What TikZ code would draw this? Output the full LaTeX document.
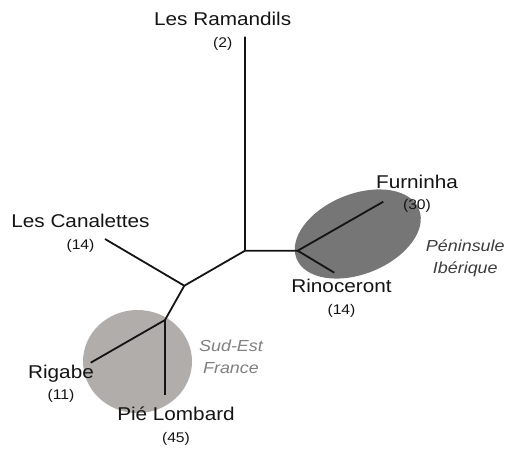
\documentclass[tikz,border=0pt]{standalone}
\usepackage{fontspec}
\setmainfont{Liberation Sans}[FakeStretch=1.12]
\usepackage{tikz}
\usetikzlibrary{positioning}
\definecolor{treeink}{HTML}{141414}
\definecolor{iberiagray}{HTML}{767676}
\definecolor{francegray}{HTML}{B1ADAA}
\definecolor{iberiatext}{HTML}{3C3C3C}
\definecolor{francetext}{HTML}{7F7F7F}

\begin{document}
\begin{tikzpicture}[
    x=1pt, y=-1pt,
    branch/.style={draw=treeink, line width=1.8pt},
    taxon/.style={anchor=base, inner sep=0pt, text=treeink, text height=13pt, text depth=4pt, font=\fontsize{18.5}{20}\selectfont},
    count/.style={inner sep=0pt, text=treeink, text height=10pt, text depth=3pt, font=\fontsize{14}{16}\selectfont},
    region/.style={inner sep=0pt, text=#1, text height=12pt, text depth=4pt, font=\fontsize{16}{18}\selectfont\itshape},
]
\useasboundingbox (0,0) rectangle (507,450);

\fill[iberiagray, rotate around={22:(357.8,234)}] (357.8,234) ellipse [x radius=66, y radius=40];
\fill[francegray] (137.5,361.5) ellipse [x radius=54.5, y radius=51.5];

\coordinate (root) at (245,250.7);
\coordinate (ramTip) at (245,36.7);
\coordinate (ibN) at (297.7,250.7);
\coordinate (furTip) at (383.3,201.7);
\coordinate (rinTip) at (334.3,272.7);
\coordinate (midN) at (184.3,285.7);
\coordinate (canTip) at (105,239);
\coordinate (frN) at (165,320);
\coordinate (rigTip) at (90.7,362.7);
\coordinate (pieTip) at (165,395);

\draw[branch] (ramTip) -- (root) -- (ibN) -- (furTip);
\draw[branch] (ibN) -- (rinTip);
\draw[branch] (root) -- (midN) -- (canTip);
\draw[branch] (midN) -- (frN) -- (rigTip);
\draw[branch] (frN) -- (pieTip);

\node[taxon] (ramandils) at (222.7,25.7) {Les Ramandils};
\node[count, below=7pt of ramandils] (ramandilsN) {(2)};
\node[taxon] (furninha) at (417,188.3) {Furninha};
\node[count, below=7pt of furninha] (furninhaN) {(30)};
\node[taxon] (canalettes) at (80.5,227.7) {Les Canalettes};
\node[count, below=7pt of canalettes] (canalettesN) {(14)};
\node[taxon] (rinoceront) at (341.5,292.7) {Rinoceront};
\node[count, below=7pt of rinoceront] (rinocerontN) {(14)};
\node[taxon] (rigabe) at (61,378) {Rigabe};
\node[count, below=7pt of rigabe] (rigabeN) {(11)};
\node[taxon] (pielombard) at (176,420.7) {Pié Lombard};
\node[count, below=7pt of pielombard] (pielombardN) {(45)};

\node[region=iberiatext, anchor=base] (peninsule) at (465.3,251.7) {Péninsule};
\node[region=iberiatext, below=5.6pt of peninsule] (iberique) {Ibérique};
\node[region=francetext, anchor=base] (sudest) at (231,351) {Sud-Est};
\node[region=francetext, below=6pt of sudest] (france) {France};

\end{tikzpicture}
\end{document}
